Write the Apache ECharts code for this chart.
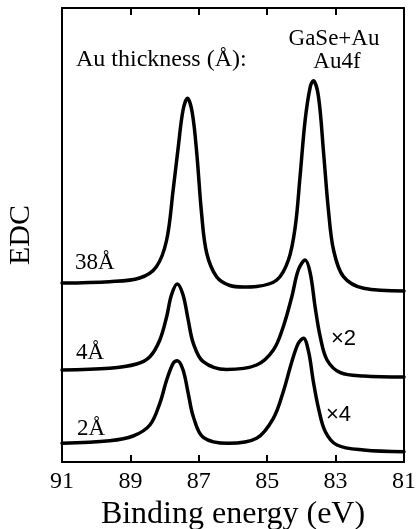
<!DOCTYPE html>
<html>
<head>
<meta charset="utf-8">
<script src="https://cdn.jsdelivr.net/npm/echarts@6/dist/echarts.min.js"></script>
<style>
html,body{margin:0;padding:0;background:#fff;}
#chart{width:417px;height:529px;}
</style>
</head>
<body>
<div id="chart"></div>
<script>
// Binding energy (eV) sample points, with EDC (arbitrary units, incl. vertical offset)
const energy38 = [91, 89.61, 88.73, 88.24, 87.94, 87.75, 87.60, 87.46, 87.33, 87.19, 87.06, 86.92, 86.77, 86.48, 86.09, 85.70, 85.31, 84.72, 84.38, 84.18, 84.04, 83.89, 83.74, 83.65, 83.50, 83.35, 83.21, 83.06, 82.77, 82.18, 81];
const edc38    = [179, 180.3, 184, 195.3, 222, 272, 315.3, 352, 363.7, 349, 309, 249, 209, 185.3, 176.5, 175, 175.5, 182, 202, 235.3, 285.3, 342, 375.3, 381.3, 365.3, 308.7, 252, 212, 185.3, 173.7, 171];

const energy4 = [91, 89.61, 88.82, 88.43, 88.14, 87.94, 87.80, 87.63, 87.46, 87.31, 87.16, 86.87, 86.19, 85.31, 84.82, 84.53, 84.28, 84.09, 83.89, 83.74, 83.60, 83.45, 83.25, 82.86, 82.18, 81];
const edc4    = [92, 93.7, 98, 105.3, 122, 145.3, 167, 178, 167, 142, 118.7, 100.3, 92.5, 97, 112, 135.3, 165.3, 192, 202, 188.7, 155.3, 125.3, 102, 89.3, 86, 85];

const energy2 = [91, 89.61, 88.92, 88.43, 88.14, 87.94, 87.75, 87.63, 87.46, 87.31, 87.16, 86.87, 86.14, 85.31, 84.82, 84.53, 84.28, 84.09, 83.94, 83.79, 83.65, 83.50, 83.30, 82.96, 82.18, 81];
const edc2    = [18.7, 21.3, 26, 37, 58.7, 82, 98.7, 101.3, 92, 68.7, 45.3, 24.7, 18.7, 23.7, 43.7, 70.3, 100.3, 118.7, 123.7, 110.3, 80.3, 53.7, 30.3, 17, 12, 10.3];

const xTickValues = [91, 89, 87, 85, 83, 81];
const thicknessLabels = ['38Å', '4Å', '2Å'];
const scaleLabels = ['×2', '×4'];
const headerTexts = ['Au thickness (Å):', 'GaSe+Au', 'Au4f'];
const xTitle = 'Binding energy (eV)';
const yTitle = 'EDC';

function pairs(xs, ys) { return xs.map((x, i) => [x, ys[i]]); }

const serif = '"Liberation Serif", "Times New Roman", serif';
const sans = '"Liberation Sans", Arial, sans-serif';

const chart = echarts.init(document.getElementById('chart'), null, {renderer: 'canvas'});

const lineStyle = {color: '#000', width: 3.5, join: 'round', cap: 'round'};
function mkSeries(name, xs, ys) {
  return {
    name: name, type: 'line', data: pairs(xs, ys), smooth: 0.35,
    showSymbol: false, symbol: 'none', lineStyle: lineStyle, silent: true, z: 3
  };
}

const axisCommon = {
  type: 'value', min: 81, max: 91, interval: 2, inverse: true,
  axisLine: {show: true, onZero: false, lineStyle: {color: '#000', width: 2}},
  axisTick: {show: true, inside: true, length: 7, lineStyle: {color: '#000', width: 2}},
  splitLine: {show: false}
};

chart.setOption({
  animation: false,
  backgroundColor: '#fff',
  grid: {left: 62, right: 13, top: 8, bottom: 67, containLabel: false, outerBoundsMode: 'none'},
  xAxis: [
    Object.assign({}, axisCommon, {
      position: 'bottom',
      axisLabel: {show: true, color: '#000', fontFamily: serif, fontSize: 24, margin: 8,
        formatter: v => xTickValues.includes(v) ? String(v) : ''},
      name: xTitle, nameLocation: 'middle', nameGap: 37,
      nameTextStyle: {color: '#000', fontFamily: serif, fontSize: 32}
    }),
    Object.assign({}, axisCommon, {
      position: 'top',
      axisLabel: {show: false}
    })
  ],
  yAxis: [
    {type: 'value', min: 0, max: 454, position: 'left',
     axisLine: {show: true, onZero: false, lineStyle: {color: '#000', width: 2}},
     axisTick: {show: false}, axisLabel: {show: false}, splitLine: {show: false},
     name: yTitle, nameLocation: 'middle', nameGap: 26, nameRotate: 90,
     nameTextStyle: {color: '#000', fontFamily: serif, fontSize: 30}},
    {type: 'value', min: 0, max: 454, position: 'right',
     axisLine: {show: true, onZero: false, lineStyle: {color: '#000', width: 2}},
     axisTick: {show: false}, axisLabel: {show: false}, splitLine: {show: false}}
  ],
  series: [
    mkSeries('38Å', energy38, edc38),
    mkSeries('4Å', energy4, edc4),
    mkSeries('2Å', energy2, edc2)
  ],
  graphic: [
    {type: 'text', left: 76, top: 48, style: {text: headerTexts[0], fill: '#000', font: '24px ' + serif}},
    {type: 'text', x: 334, y: 39, style: {text: headerTexts[1], fill: '#000', font: '23px ' + serif, align: 'center', verticalAlign: 'middle'}},
    {type: 'text', x: 337, y: 62, style: {text: headerTexts[2], fill: '#000', font: '23px ' + serif, align: 'center', verticalAlign: 'middle'}},
    {type: 'text', x: 75, y: 263, style: {text: thicknessLabels[0], fill: '#000', font: '23px ' + serif, align: 'left', verticalAlign: 'middle'}},
    {type: 'text', x: 76, y: 353, style: {text: thicknessLabels[1], fill: '#000', font: '23px ' + serif, align: 'left', verticalAlign: 'middle'}},
    {type: 'text', x: 77, y: 429, style: {text: thicknessLabels[2], fill: '#000', font: '23px ' + serif, align: 'left', verticalAlign: 'middle'}},
    {type: 'text', x: 331, y: 339, style: {text: scaleLabels[0], fill: '#000', font: '22px ' + sans, align: 'left', verticalAlign: 'middle'}},
    {type: 'text', x: 326, y: 415, style: {text: scaleLabels[1], fill: '#000', font: '22px ' + sans, align: 'left', verticalAlign: 'middle'}}
  ]
});
</script>
</body>
</html>
